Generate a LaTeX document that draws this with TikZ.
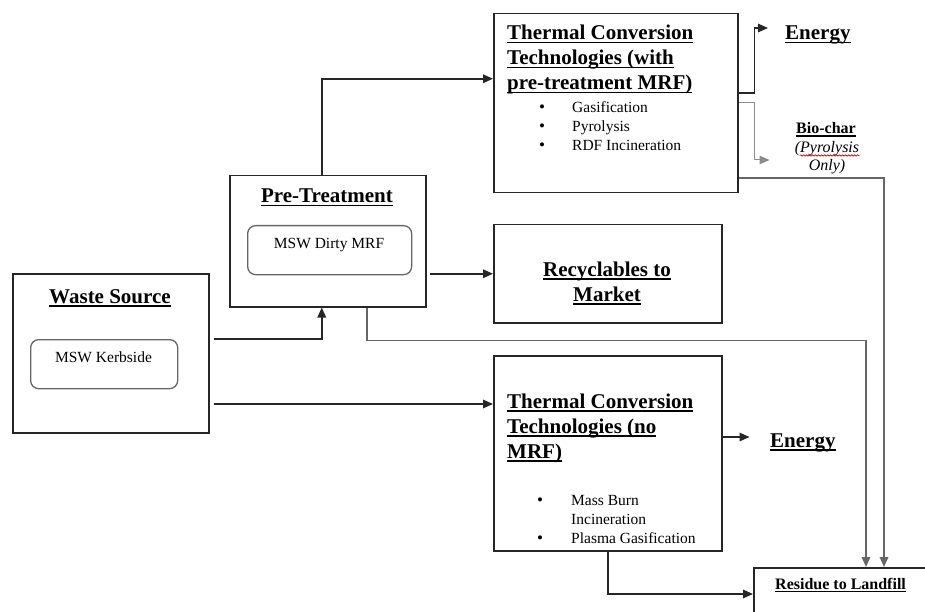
\documentclass[tikz,border=0pt]{standalone}
\usepackage{fontspec}
\setmainfont{Liberation Serif}
\usetikzlibrary{arrows.meta,decorations.pathmorphing}
% thick underline used for headings
\newcommand\hul[1]{\setbox0=\hbox{#1}\rlap{\rule[-3.5pt]{\wd0}{1.8pt}}\box0}
\newcommand\sul[1]{\setbox0=\hbox{#1}\rlap{\rule[-3pt]{\wd0}{1.5pt}}\box0}
\begin{document}
\begin{tikzpicture}[x=1pt,y=-1pt,
  box/.style={draw=black!85,line width=1.5pt,rectangle,inner sep=0pt,anchor=north west},
  inbox/.style={draw=black!60,line width=1.3pt,rounded corners=8pt,inner sep=0pt,anchor=north west},
  tip/.style={-{Triangle[length=10pt,width=8.5pt]}},
  conn/.style={draw=black!85,line width=1.6pt,tip},
  gconn/.style={draw=black!60,line width=1.8pt,tip},
  lconn/.style={draw=black!45,line width=1pt,tip},
  head/.style={font=\fontsize{21}{25}\selectfont\bfseries,inner sep=0pt,anchor=base west},
  headc/.style={head,anchor=base},
  body/.style={font=\fontsize{15.5}{19}\selectfont,inner sep=0pt,anchor=base west},
  bodyc/.style={body,anchor=base},
  dot/.style={font=\fontsize{17}{19}\selectfont,inner sep=0pt,anchor=base},
  small/.style={font=\fontsize{16}{19}\selectfont\bfseries,inner sep=0pt,anchor=base},
  smallit/.style={font=\fontsize{16}{19}\selectfont\itshape,inner sep=0pt,anchor=base}]
\fill[white] (0,0) rectangle (925,612);
\useasboundingbox (0,0) rectangle (925,612);
\clip (0,0) rectangle (925,612);

% boxes
\node[box,minimum width=196pt,minimum height=159pt] (ws) at (12,273) {};
\node[inbox,minimum width=147pt,minimum height=49pt] (wsin) at (30,339) {};
\node[box,minimum width=196pt,minimum height=131pt] (pre) at (229,175) {};
\node[inbox,minimum width=164pt,minimum height=49pt] (prein) at (247,225) {};
\node[box,minimum width=244pt,minimum height=179pt] (t1) at (493,13) {};
\node[box,minimum width=228pt,minimum height=98pt] (rec) at (493,224) {};
\node[box,minimum width=228pt,minimum height=195pt] (t2) at (493,355) {};
\node[box,minimum width=200pt,minimum height=80pt] (res) at (753,567) {};

% texts
\node[headc] (wst) at (110,303) {\hul{Waste Source}};
\node[bodyc] (wsint) at (103.5,362) {MSW Kerbside};
\node[headc] (pret) at (327,203) {\hul{Pre-Treatment}};
\node[bodyc] (preint) at (329,248) {MSW Dirty MRF};

\node[head] (t1a) at (507,40) {\hul{Thermal Conversion}};
\node[head] (t1b) at (507,65) {\hul{Technologies (with}};
\node[head] (t1c) at (507,90) {\hul{pre-treatment MRF)}};
\node[dot] (t1d1) at (542,113) {•};
\node[dot] (t1d2) at (542,132) {•};
\node[dot] (t1d3) at (542,151) {•};
\node[body] (t1i1) at (572,113) {Gasification};
\node[body] (t1i2) at (572,132) {Pyrolysis};
\node[body] (t1i3) at (572,151) {RDF Incineration};

\node[head] (en1) at (785,40) {\hul{Energy}};
\node[small] (bio1) at (826,134) {\sul{Bio-char}};
\node[smallit] (bio2) at (827,153) {(Pyrolysis};
\node[smallit] (bio3) at (827,171) {Only)};
\draw[red!75!black,line width=0.6pt,decorate,decoration={snake,amplitude=0.7pt,segment length=3pt}]
  ([xshift=5pt,yshift=-2.5pt]bio2.base west) -- ([yshift=-2.5pt]bio2.base east);

\node[headc] (rect1) at (607,276) {\hul{Recyclables to}};
\node[headc] (rect2) at (607,301) {\hul{Market}};

\node[head] (t2a) at (507,408) {\hul{Thermal Conversion}};
\node[head] (t2b) at (507,433) {\hul{Technologies (no}};
\node[head] (t2c) at (507,458) {\hul{MRF)}};
\node[dot] (t2d1) at (540,505) {•};
\node[dot] (t2d2) at (540,543) {•};
\node[body] (t2i1) at (571,505) {Mass Burn};
\node[body] (t2i2) at (571,524) {Incineration};
\node[body] (t2i3) at (571,543) {Plasma Gasification};

\node[head] (en2) at (770,447) {\hul{Energy}};
\node[small,anchor=base west] (rest) at (775,589) {\sul{Residue to Landfill}};

% connectors
\coordinate (wsa) at ([xshift=4pt,yshift=-66pt]ws.north east);
\coordinate (wsb) at ([xshift=4pt,yshift=-131pt]ws.north east);
\draw[conn] (wsa) -| ([xshift=-6pt]pre.south);
\draw[conn] (wsb) -- (wsb -| t2.west);
\draw[conn] ([xshift=-6pt]pre.north) |- ([yshift=24.5pt]t1.west);
\coordinate (preout) at (pre.east |- rec.west);
\draw[conn] ([xshift=3pt]preout) -- (rec.west);
\draw[gconn] ([xshift=39pt]pre.south) -- ++(0,33) -| ([xshift=113pt]res.north west);

\draw[conn] ([yshift=-80pt]t1.north east) -- ++(16,0) |- ([xshift=-17pt,yshift=12pt]en1.base west);
\draw[lconn] ([yshift=-90pt]t1.north east) -- ++(16,0) |- ++(15,57);
\draw[gconn] ([yshift=-165pt]t1.north east) -| ([xshift=131pt]res.north west);

\coordinate (t2e) at ([yshift=-82pt]t2.north east);
\draw[conn] (t2e) -- ++(27,0);
\draw[conn] (t2.south) |- ([yshift=-27pt]res.north west);
\end{tikzpicture}
\end{document}
